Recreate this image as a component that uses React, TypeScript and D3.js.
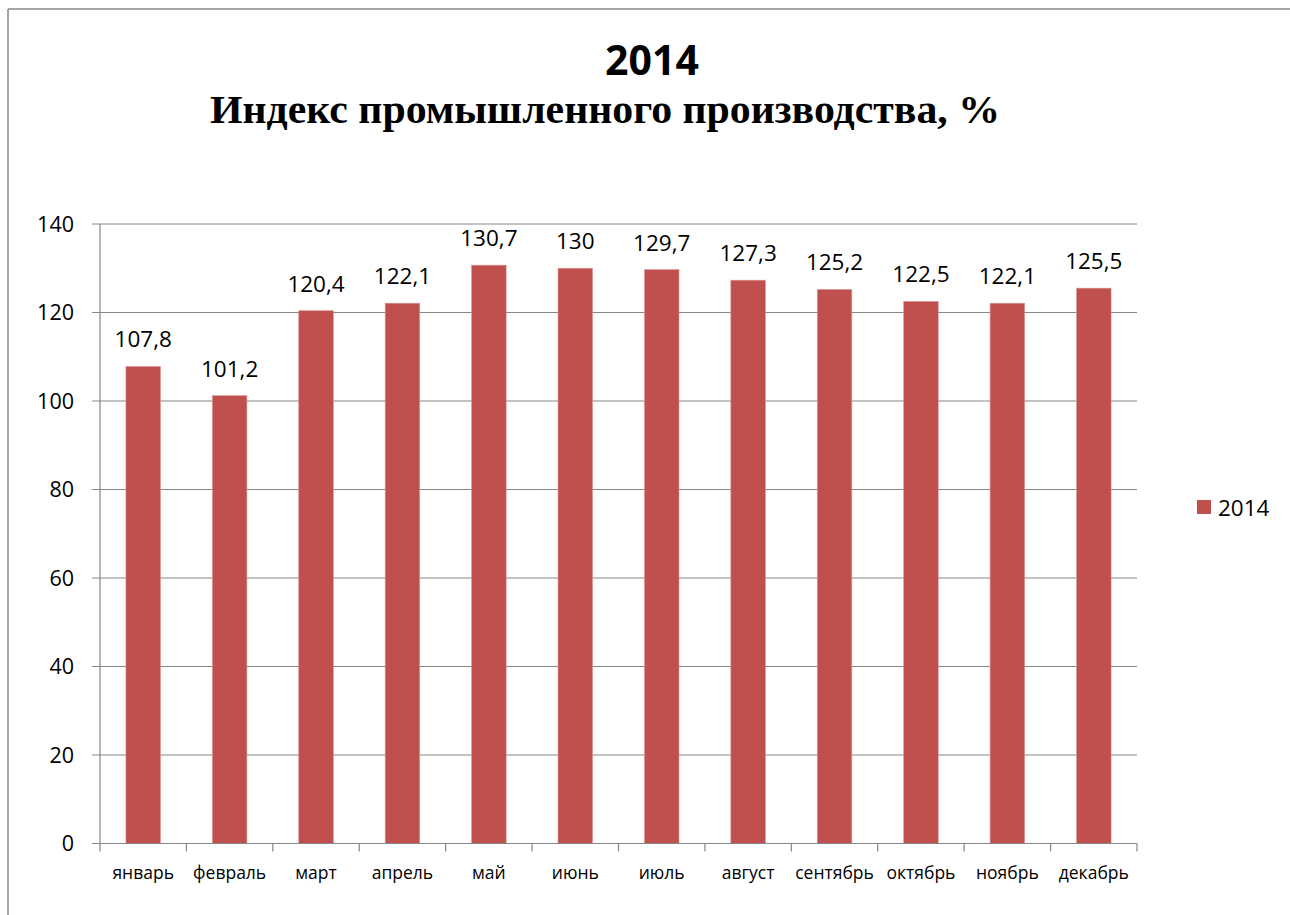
import React from "react";
import * as d3 from "d3";

const months = ["январь", "февраль", "март", "апрель", "май", "июнь", "июль", "август", "сентябрь", "октябрь", "ноябрь", "декабрь"];
const values2014 = [107.8, 101.2, 120.4, 122.1, 130.7, 130, 129.7, 127.3, 125.2, 122.5, 122.1, 125.5];
const yTicks = [0, 20, 40, 60, 80, 100, 120, 140];
const seriesName = "2014";
const titleLine1 = "2014";
const titleLine2 = "Индекс промышленного производства, %";

const W = 1290;
const H = 915;
const plot = { left: 100, right: 1137, top: 224, bottom: 843.5 };
const barColor = "#C0504D";
const gridColor = "#868686";
const sans = "'Open Sans', 'DejaVu Sans', sans-serif";

export default function App() {
  const x = d3.scaleBand<string>().domain(months).range([plot.left, plot.right]).paddingInner(0).paddingOuter(0);
  const y = d3.scaleLinear().domain([0, 140]).range([plot.bottom, plot.top]);
  const bw = x.bandwidth() / 2.5;
  const fmt = (v: number) => String(v).replace(".", ",");

  return (
    <svg width={W} height={H} style={{ position: "absolute", left: 0, top: 0, background: "#fff" }}>
      {/* outer chart border */}
      <line x1={8} y1={9} x2={W} y2={9} stroke={gridColor} strokeWidth={1.5} />
      <line x1={8} y1={9} x2={8} y2={H} stroke={gridColor} strokeWidth={1.5} />

      {/* titles */}
      <text x={652} y={75} textAnchor="middle" fontFamily={sans} fontWeight={700} fontSize={41} fill="#000">
        {titleLine1}
      </text>
      <text
        x={605}
        y={123}
        textAnchor="middle"
        fontFamily="'Liberation Serif', 'Times New Roman', serif"
        fontWeight={700}
        fontSize={40}
        textLength={790}
        lengthAdjust="spacingAndGlyphs"
        fill="#000"
      >
        {titleLine2}
      </text>

      {/* gridlines */}
      {yTicks.map((t) => (
        <g key={t}>
          {t > 0 && (
            <line x1={plot.left} x2={plot.right} y1={y(t)} y2={y(t)} stroke={gridColor} strokeWidth={1} />
          )}
          <line x1={plot.left - 8} x2={plot.left} y1={y(t)} y2={y(t)} stroke={gridColor} strokeWidth={1} />
          <text x={74} y={y(t) + 7.5} textAnchor="end" fontFamily={sans} fontSize={21.5} fill="#000">
            {t}
          </text>
        </g>
      ))}

      {/* bars */}
      {months.map((m, i) => {
        const cx = (x(m) as number) + x.bandwidth() / 2;
        const v = values2014[i];
        return (
          <g key={m}>
            <rect
              x={cx - bw / 2}
              y={y(v)}
              width={bw}
              height={y(0) - y(v)}
              fill={barColor}
              stroke="#D99694"
              strokeWidth={0.6}
            />
            <text x={cx} y={y(v) - 19} textAnchor="middle" fontFamily={sans} fontSize={22.5} fill="#000">
              {fmt(v)}
            </text>
          </g>
        );
      })}

      {/* axes */}
      <line x1={plot.left} x2={plot.left} y1={plot.top} y2={plot.bottom} stroke={gridColor} strokeWidth={1.2} />
      <line x1={plot.left - 8} x2={plot.right} y1={plot.bottom} y2={plot.bottom} stroke={gridColor} strokeWidth={1.2} />
      {d3.range(months.length + 1).map((i) => {
        const xx = plot.left + i * x.bandwidth();
        return <line key={i} x1={xx} x2={xx} y1={plot.bottom} y2={plot.bottom + 8} stroke={gridColor} strokeWidth={1.2} />;
      })}
      {months.map((m) => (
        <text
          key={m}
          x={(x(m) as number) + x.bandwidth() / 2}
          y={879}
          textAnchor="middle"
          fontFamily={sans}
          fontSize={17.5}
          fill="#000"
        >
          {m}
        </text>
      ))}

      {/* legend */}
      <rect x={1197} y={500} width={14} height={14} fill={barColor} />
      <text x={1218} y={516} fontFamily={sans} fontSize={22.5} fill="#000">
        {seriesName}
      </text>
    </svg>
  );
}
